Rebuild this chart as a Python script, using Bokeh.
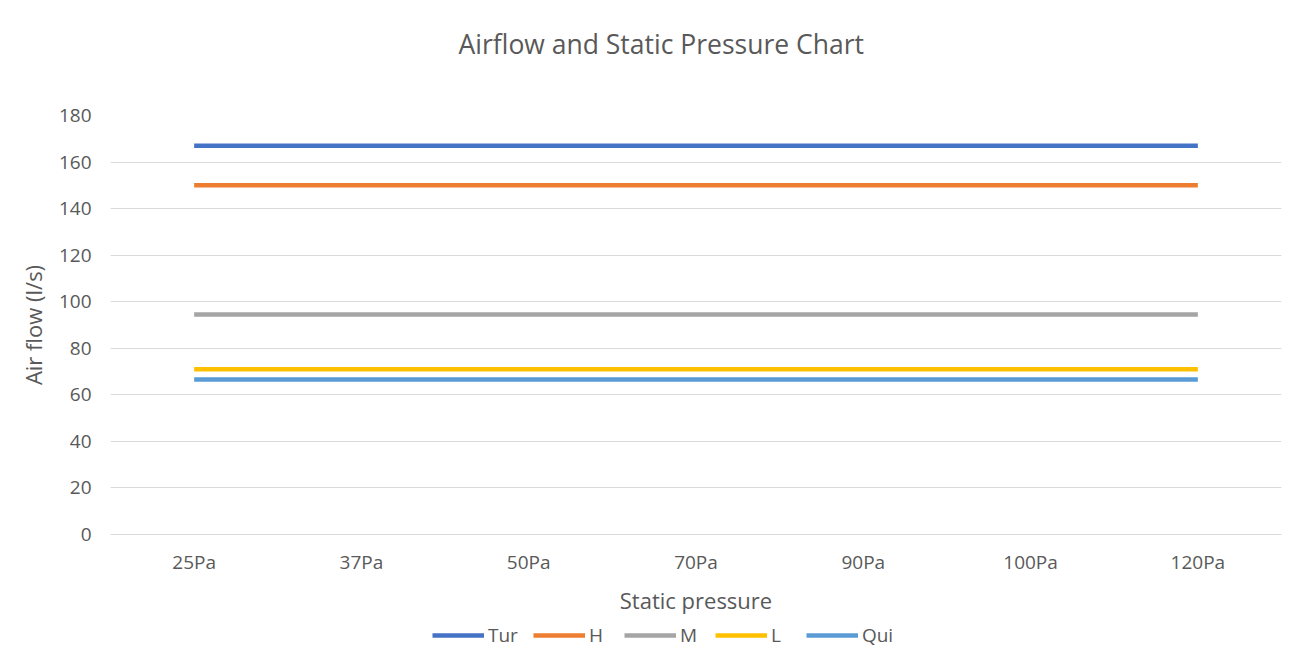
from bokeh.plotting import figure
from bokeh.models import Legend, LegendItem, ColumnDataSource, Title
from bokeh.layouts import column
from bokeh.embed import file_html
from bokeh.resources import INLINE

categories = ["25Pa", "37Pa", "50Pa", "70Pa", "90Pa", "100Pa", "120Pa"]
series_names = ["Tur", "H", "M", "L", "Qui"]
tur = [167, 167, 167, 167, 167, 167, 167]
h = [150, 150, 150, 150, 150, 150, 150]
m = [94.5, 94.5, 94.5, 94.5, 94.5, 94.5, 94.5]
l = [71, 71, 71, 71, 71, 71, 71]
qui = [66.6, 66.6, 66.6, 66.6, 66.6, 66.6, 66.6]
colors = ["#4472C4", "#ED7D31", "#A5A5A5", "#FFC000", "#5B9BD5"]
y_ticks = [0, 20, 40, 60, 80, 100, 120, 140, 160, 180]

FONT = "Open Sans"
TXT = "#595959"
W = 1299

p = figure(x_range=categories, y_range=(0, 180), width=W, height=620,
           output_backend="svg", toolbar_location=None, title=None,
           min_border_left=110, min_border_right=18, min_border_top=115, min_border_bottom=86)

spacer = Title(text=" ", text_font_size="27px", text_font=FONT)
p.add_layout(spacer, "above")
title = Title(text="Airflow and Static Pressure Chart", align="left", offset=348,
              text_font=FONT, text_font_size="26.5px", text_font_style="normal",
              text_color=TXT)
p.add_layout(title, "above")

all_vals = [tur, h, m, l, qui]
for name, vals, c in zip(series_names, all_vals, colors):
    src = ColumnDataSource(dict(x=categories, y=vals))
    p.line("x", "y", source=src, line_color=c, line_width=4.5)

p.outline_line_color = None
p.background_fill_color = "white"
p.border_fill_color = "white"

p.xgrid.grid_line_color = None
p.ygrid.grid_line_color = "#D9D9D9"
p.ygrid.grid_line_width = 1

p.yaxis.ticker = y_ticks
p.yaxis.axis_line_color = None
p.yaxis.major_tick_line_color = None
p.yaxis.minor_tick_line_color = None
p.yaxis.major_tick_out = 0
p.yaxis.major_tick_in = 0
p.yaxis.major_label_standoff = 19
p.yaxis.axis_label = "Air flow (l/s)"
p.yaxis.axis_label_standoff = 8

p.xaxis.axis_line_color = "#D9D9D9"
p.xaxis.major_tick_line_color = None
p.xaxis.minor_tick_line_color = None
p.xaxis.major_tick_out = 0
p.xaxis.major_tick_in = 0
p.xaxis.major_label_standoff = 14
p.xaxis.axis_label = "Static pressure"
p.xaxis.axis_label_standoff = 7

for ax in (p.xaxis[0], p.yaxis[0]):
    ax.major_label_text_font = FONT
    ax.major_label_text_font_size = "19px"
    ax.major_label_text_color = TXT
    ax.axis_label_text_font = FONT
    ax.axis_label_text_font_size = "22px"
    ax.axis_label_text_font_style = "normal"
    ax.axis_label_text_color = TXT

# legend strip below the chart
lf = figure(x_range=categories, y_range=(1000, 1001), width=W, height=43,
            output_backend="svg", toolbar_location=None, title=None,
            min_border_left=0, min_border_right=0, min_border_top=0, min_border_bottom=0)
lf.xaxis.visible = False
lf.yaxis.visible = False
lf.grid.grid_line_color = None
lf.outline_line_color = None
items = []
for name, vals, c in zip(series_names, all_vals, colors):
    src = ColumnDataSource(dict(x=categories, y=vals))
    r = lf.line("x", "y", source=src, line_color=c, line_width=4.5)
    items.append(LegendItem(label=name, renderers=[r]))

legend = Legend(items=items, orientation="horizontal", location=(322, 15))
legend.label_text_font = FONT
legend.label_text_font_size = "19px"
legend.label_text_color = TXT
legend.glyph_width = 52
legend.label_standoff = 4
legend.spacing = 15
legend.border_line_color = None
legend.background_fill_alpha = 0
legend.padding = 4
legend.margin = 0
lf.add_layout(legend, "center")

layout = column(p, lf, spacing=0)
open("out.html", "w").write(file_html(layout, INLINE))
